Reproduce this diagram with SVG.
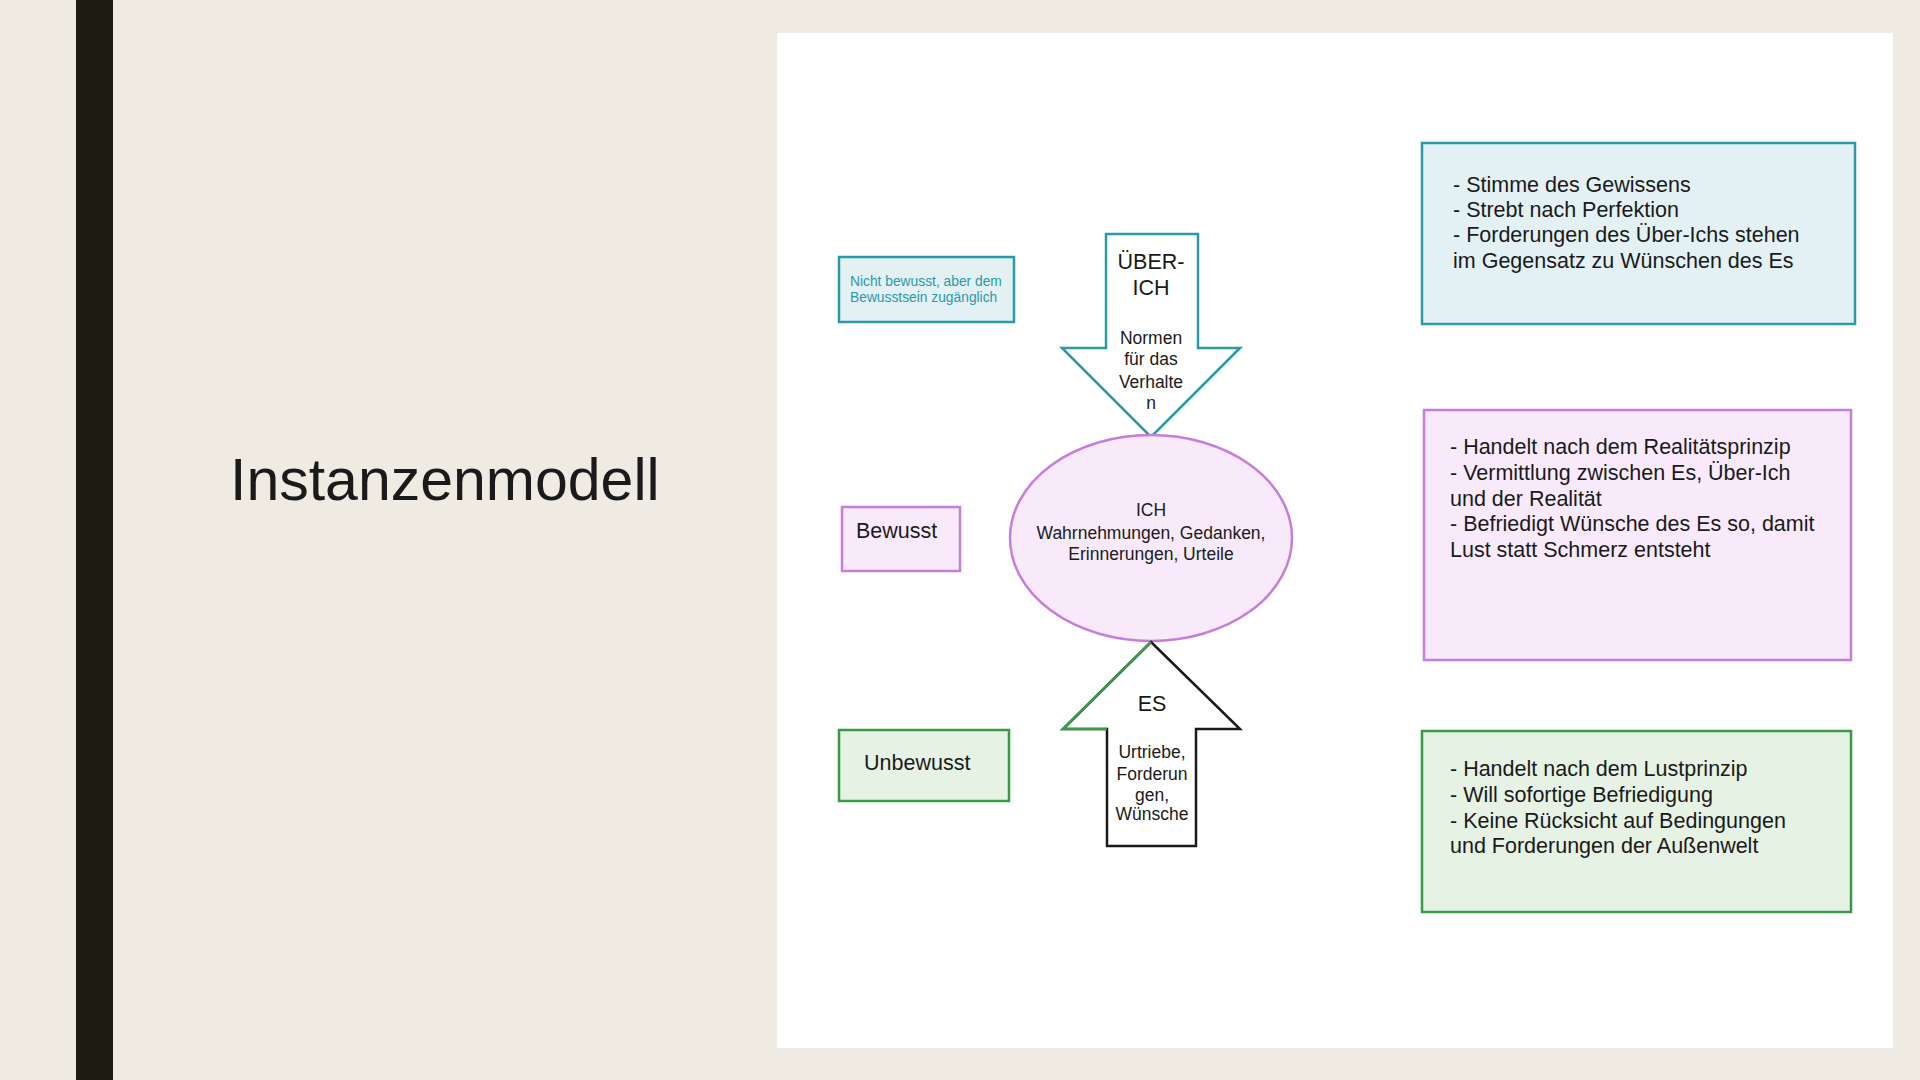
<svg xmlns="http://www.w3.org/2000/svg" width="1920" height="1080" viewBox="0 0 1920 1080">
<style>
.t{font-family:"Liberation Sans",Arial,sans-serif;fill:#1a1a1a}
.b{fill:#e3f1f5;stroke:#2a9aa8;stroke-width:2.5}
.p{fill:#f8eafb;stroke:#c77ddb;stroke-width:2.5}
.g{fill:#e6f2e3;stroke:#3a9a4a;stroke-width:2.5}
.r{font-size:21.5px}
.s{font-size:17.5px}
</style>
<rect width="1920" height="1080" fill="#efebe3"/>
<rect x="76" y="0" width="37" height="1080" fill="#1c1c10"/>
<rect x="777" y="33" width="1116" height="1015" fill="#fff"/>
<text class="t" x="230" y="500" font-size="59">Instanzenmodell</text>
<g id="nicht-bewusst"><rect class="b" x="839" y="257" width="175" height="65"/>
<text class="t" x="850" y="286" font-size="13.8" style="fill:#2a9aa8">Nicht bewusst, aber dem</text>
<text class="t" x="850" y="302" font-size="13.8" style="fill:#2a9aa8">Bewusstsein zugänglich</text></g>
<g id="bewusst"><rect class="p" x="842" y="507" width="118" height="64"/>
<text class="t r" x="856" y="538">Bewusst</text></g>
<g id="unbewusst"><rect class="g" x="839" y="730" width="170" height="71"/>
<text class="t r" x="864" y="770">Unbewusst</text></g>
<g id="ueber-ich"><path d="M1106 234H1198V348H1240L1151 437L1062 348H1106Z" fill="#fff" stroke="#2a9aa8" stroke-width="2.5"/>
<g class="t" text-anchor="middle"><text class="r" x="1151" y="269">ÜBER-</text><text class="r" x="1151" y="295">ICH</text>
<text class="s" x="1151" y="344">Normen</text><text class="s" x="1151" y="365">für das</text><text class="s" x="1151" y="388">Verhalte</text><text class="s" x="1151" y="409">n</text></g></g>
<g id="ich"><ellipse cx="1151" cy="538" rx="141" ry="103" class="p"/>
<g class="t s" text-anchor="middle"><text x="1151" y="516">ICH</text><text x="1151" y="539">Wahrnehmungen, Gedanken,</text><text x="1151" y="560">Erinnerungen, Urteile</text></g></g>
<g id="es"><path d="M1151 642L1240 729H1196V846H1107V729H1063Z" fill="#fff" stroke="#1a1a1a" stroke-width="2.5"/>
<path d="M1151 642L1063 729H1107" fill="none" stroke="#3a9a4a" stroke-width="2.5"/>
<g class="t" text-anchor="middle"><text class="r" x="1152" y="711">ES</text>
<text class="s" x="1152" y="758">Urtriebe,</text><text class="s" x="1152" y="780">Forderun</text><text class="s" x="1152" y="801">gen,</text><text class="s" x="1152" y="820">Wünsche</text></g></g>
<g id="info-ueber-ich"><rect class="b" x="1422" y="143" width="433" height="181"/>
<g class="t r"><text x="1453" y="192">- Stimme des Gewissens</text><text x="1453" y="217">- Strebt nach Perfektion</text><text x="1453" y="242">- Forderungen des Über-Ichs stehen</text><text x="1453" y="268">im Gegensatz zu Wünschen des Es</text></g></g>
<g id="info-ich"><rect class="p" x="1424" y="410" width="427" height="250"/>
<g class="t r"><text x="1450" y="454">- Handelt nach dem Realitätsprinzip</text><text x="1450" y="480">- Vermittlung zwischen Es, Über-Ich</text><text x="1450" y="506">und der Realität</text><text x="1450" y="531">- Befriedigt Wünsche des Es so, damit</text><text x="1450" y="557">Lust statt Schmerz entsteht</text></g></g>
<g id="info-es"><rect class="g" x="1422" y="731" width="429" height="181"/>
<g class="t r"><text x="1450" y="776">- Handelt nach dem Lustprinzip</text><text x="1450" y="802">- Will sofortige Befriedigung</text><text x="1450" y="828">- Keine Rücksicht auf Bedingungen</text><text x="1450" y="853">und Forderungen der Außenwelt</text></g></g>
<g id="connectors"/>
</svg>
